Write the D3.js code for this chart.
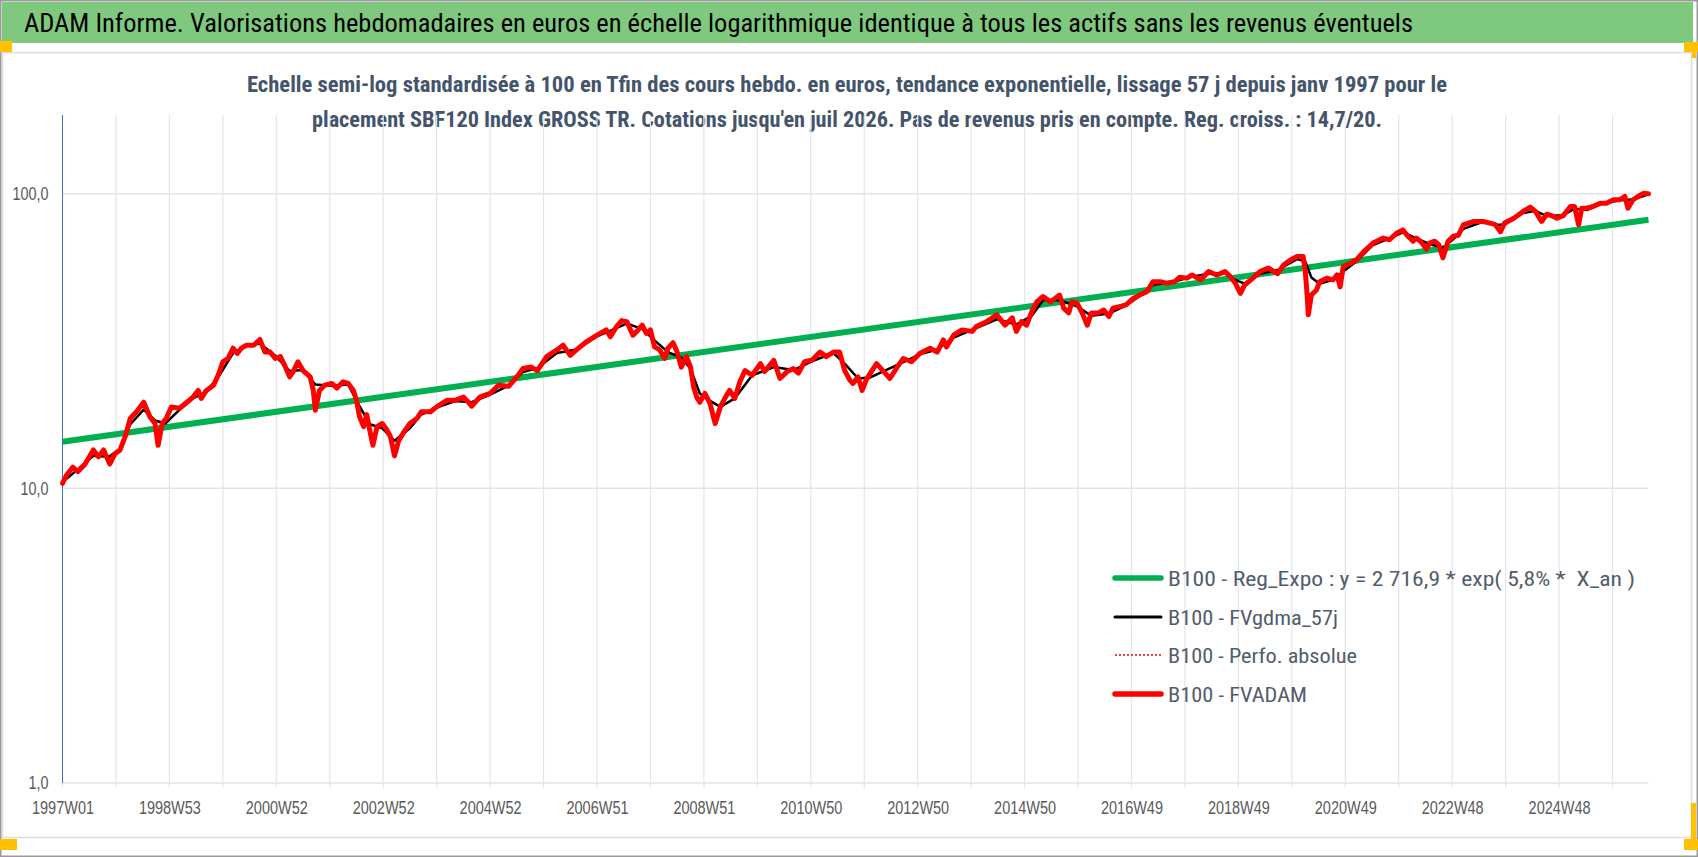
<!DOCTYPE html>
<html>
<head>
<meta charset="UTF-8">
<title>ADAM Informe - SBF120</title>
<style>
    body { margin: 0; background: white; }
    svg { display: block; font-family: "Liberation Sans Narrow", "Roboto Condensed", Roboto, "Liberation Sans", sans-serif; }
    .tick text { fill: #595959; font-size: 18px; }
    .domain { display: none; }
</style>
</head>
<body>
<svg id="chart" width="1698" height="857"></svg>
<script src="https://d3js.org/d3.v7.min.js"></script>
<script>
// ---- data (week index since 1997W01, value base 100 at the end) ----
var titleText = "ADAM Informe. Valorisations hebdomadaires en euros en échelle logarithmique identique à tous les actifs sans les revenus éventuels";
var subtitleLines = [
    "Echelle semi-log standardisée à 100 en Tfin des cours hebdo. en euros, tendance exponentielle, lissage 57 j depuis janv 1997 pour le",
    "placement SBF120 Index GROSS TR. Cotations jusqu'en juil 2026. Pas de revenus pris en compte. Reg. croiss. : 14,7/20."
];

var xLabels = ["1997W01", "1998W53", "2000W52", "2002W52", "2004W52", "2006W51", "2008W51",
    "2010W50", "2012W50", "2014W50", "2016W49", "2018W49", "2020W49", "2022W48", "2024W48"];
var xLabelStep = 104;   // weeks between labels
var xGridStep = 52;     // weeks between vertical gridlines
var lastWeek = 1543;

var yTicks = [1, 10, 100];
var yTickLabels = ["1,0", "10,0", "100,0"];

var legendNames = [
    "B100 - Reg_Expo : y = 2 716,9 * exp( 5,8% *  X_an )",
    "B100 - FVgdma_57j",
    "B100 - Perfo. absolue",
    "B100 - FVADAM"
];

// exponential regression (straight on log scale)
var regWeeks = [0, 1543];
var regValues = [14.4, 81.6];

// FVADAM / Perfo. absolue
var adamWeeks = [0, 4, 10, 15, 22, 30, 35, 40, 46, 51, 56, 61, 66, 72, 79, 85, 90, 93, 97, 101,
    106, 114, 121, 127, 132, 135, 140, 147, 152, 156, 161, 166, 170, 174, 179, 186, 192, 197, 202, 207,
    212, 216, 221, 225, 229, 234, 241, 244, 246, 250, 255, 262, 267, 273, 278, 283, 286, 289, 293, 296,
    299, 302, 306, 311, 315, 319, 323, 327, 332, 338, 345, 349, 358, 364, 374, 382, 390, 395, 398, 406,
    416, 424, 434, 442, 448, 456, 462, 471, 481, 487, 494, 500, 510, 520, 529, 533, 539, 544, 549, 555,
    560, 564, 568, 572, 576, 581, 586, 589, 594, 598, 602, 607, 611, 614, 617, 620, 625, 630, 635, 640,
    645, 649, 654, 659, 664, 671, 679, 683, 692, 698, 705, 711, 716, 722, 729, 737, 743, 750, 756, 761,
    766, 769, 774, 778, 782, 786, 792, 799, 805, 812, 818, 826, 834, 844, 851, 857, 860, 867, 875, 885,
    889, 899, 909, 917, 924, 928, 933, 938, 943, 948, 954, 961, 966, 970, 974, 979, 982, 987, 992, 997,
    1001, 1008, 1013, 1018, 1022, 1029, 1035, 1042, 1048, 1055, 1061, 1068, 1074, 1082, 1087, 1094, 1099, 1107, 1115, 1123,
    1131, 1136, 1141, 1146, 1150, 1159, 1165, 1173, 1182, 1188, 1195, 1201, 1207, 1209, 1211, 1212, 1215, 1220, 1223, 1230,
    1236, 1240, 1243, 1246, 1253, 1259, 1266, 1275, 1285, 1291, 1298, 1304, 1309, 1314, 1317, 1321, 1324, 1327, 1330, 1335,
    1339, 1343, 1348, 1353, 1358, 1363, 1373, 1382, 1389, 1394, 1399, 1403, 1412, 1421, 1428, 1433, 1439, 1444, 1449, 1454,
    1460, 1467, 1471, 1475, 1478, 1483, 1489, 1496, 1502, 1509, 1515, 1520, 1523, 1528, 1533, 1538, 1543];
var adamValues = [10.4, 11.1, 11.8, 11.4, 12.1, 13.5, 12.8, 13.5, 12.1, 13.1, 13.5, 15.0, 17.3, 18.2, 19.6, 17.5, 16.6, 14.0, 16.6, 17.3,
    18.9, 18.7, 19.6, 20.4, 21.5, 20.2, 21.5, 22.4, 24.5, 26.9, 27.6, 29.9, 28.7, 29.9, 30.6, 30.6, 32.0, 29.0, 29.0, 27.6,
    28.0, 26.2, 23.9, 25.1, 26.9, 25.1, 23.9, 21.5, 18.4, 21.5, 22.4, 22.7, 21.9, 23.0, 22.7, 21.5, 19.9, 17.5, 16.2, 17.8,
    15.7, 14.0, 16.2, 16.6, 15.9, 15.0, 12.9, 14.5, 15.5, 16.6, 17.3, 18.2, 18.2, 18.9, 19.9, 19.9, 20.4, 19.6, 19.0, 20.4,
    21.0, 22.4, 22.2, 23.9, 25.5, 25.8, 25.1, 28.0, 29.5, 30.6, 28.3, 29.5, 31.5, 33.1, 34.5, 32.7, 35.4, 37.1, 36.8, 33.1,
    34.5, 35.8, 33.6, 34.5, 30.2, 29.5, 27.6, 29.9, 31.2, 29.0, 25.8, 28.0, 25.8, 22.1, 20.4, 19.6, 21.0, 19.4, 16.6, 18.9,
    20.4, 21.5, 20.2, 23.0, 25.1, 24.2, 26.5, 24.9, 27.2, 23.6, 24.9, 25.5, 24.6, 26.9, 27.2, 29.0, 28.0, 29.0, 29.0, 25.1,
    23.3, 22.7, 23.9, 21.5, 23.4, 24.6, 26.5, 24.9, 23.6, 25.8, 27.6, 26.9, 28.7, 29.9, 29.0, 31.9, 30.2, 33.1, 34.5, 34.1,
    35.4, 36.8, 38.8, 35.8, 37.9, 34.1, 36.8, 35.8, 39.8, 43.0, 44.8, 43.0, 44.2, 45.3, 40.9, 39.4, 43.0, 42.5, 39.4, 35.8,
    39.4, 39.4, 40.3, 38.3, 40.9, 41.4, 42.0, 44.2, 45.3, 46.5, 50.3, 50.3, 49.7, 50.3, 52.1, 51.7, 53.0, 51.0, 54.4, 53.0,
    54.4, 52.4, 49.7, 45.9, 49.0, 52.0, 54.4, 56.0, 53.5, 57.3, 59.7, 61.2, 61.2, 55.1, 44.8, 38.8, 45.3, 47.1, 50.3, 51.7,
    51.0, 53.0, 48.3, 56.6, 58.1, 59.7, 63.6, 68.0, 70.7, 69.8, 73.5, 75.4, 71.7, 69.0, 70.7, 69.0, 67.1, 64.8, 68.0, 69.0,
    67.1, 60.6, 69.0, 71.7, 72.3, 78.5, 80.5, 80.5, 79.5, 78.5, 74.3, 79.5, 82.6, 87.1, 90.1, 87.1, 80.5, 85.2, 84.2, 82.6,
    84.2, 90.5, 90.5, 78.5, 89.3, 89.3, 90.5, 92.9, 92.9, 95.4, 95.4, 97.9, 89.3, 95.4, 97.9, 100.3, 100.0];

// FVgdma_57j (smoothed line, mostly hidden under FVADAM)
var gdmaWeeks = [0, 15, 30, 45, 56, 66, 79, 90, 100, 114, 127, 140, 152, 166, 179, 192, 207, 221, 234, 246,
    262, 278, 289, 299, 311, 323, 338, 349, 364, 382, 398, 416, 434, 448, 462, 481, 500, 520, 539, 549,
    564, 576, 589, 602, 611, 620, 630, 640, 654, 671, 692, 711, 729, 750, 761, 774, 786, 799, 818, 834,
    851, 867, 889, 909, 928, 943, 954, 970, 987, 1001, 1018, 1035, 1048, 1061, 1082, 1099, 1115, 1131, 1141, 1150,
    1165, 1182, 1201, 1209, 1215, 1223, 1236, 1246, 1259, 1275, 1291, 1304, 1317, 1330, 1343, 1353, 1363, 1382, 1394, 1403,
    1421, 1433, 1444, 1460, 1471, 1483, 1496, 1515, 1528, 1543];
var gdmaValues = [10.5, 11.6, 12.9, 12.8, 13.6, 16.5, 18.5, 17.0, 16.6, 18.5, 20.2, 21.3, 24.0, 28.8, 30.5, 31.0, 28.2, 25.0, 25.2, 22.5,
    22.3, 22.5, 19.0, 16.5, 16.0, 14.5, 16.0, 17.8, 18.8, 19.8, 19.6, 20.8, 22.3, 24.8, 25.6, 28.8, 29.6, 32.8, 35.0, 36.3,
    34.7, 31.8, 29.0, 27.8, 25.5, 21.0, 19.8, 18.9, 20.2, 24.2, 25.8, 25.2, 27.0, 28.8, 26.5, 23.6, 23.8, 25.0, 26.8, 28.5,
    29.6, 32.5, 35.0, 37.5, 36.0, 38.5, 43.5, 43.5, 41.5, 38.5, 39.2, 41.8, 45.0, 49.0, 50.3, 52.3, 53.5, 53.8, 51.0, 49.5,
    53.5, 55.0, 60.0, 59.0, 52.0, 49.5, 51.0, 54.5, 59.0, 67.0, 70.5, 74.0, 70.5, 67.5, 65.5, 70.0, 76.0, 80.3, 78.5, 78.5,
    86.0, 87.5, 84.0, 84.5, 89.0, 88.0, 92.0, 95.0, 95.5, 99.5];

// ---- layout ----
var W = 1698, H = 857;
var plot = { left: 62.5, right: 1648.5, top: 115, bottom: 783 };
var colors = { reg: "#00b050", gdma: "#000000", perfo: "#ff0000", adam: "#ff0000" };

var svg = d3.select("#chart");

function fitText(sel, len) {
    sel.attr("textLength", len).attr("lengthAdjust", "spacingAndGlyphs");
}

// background and frame
svg.append("rect").attr("width", W).attr("height", H).attr("fill", "white");
svg.append("rect").attr("x", 0.75).attr("y", 0.75).attr("width", W - 1.5).attr("height", H - 1.5)
    .attr("fill", "none").attr("stroke", "#9a9a9a").attr("stroke-width", 1.5);

// green title bar
svg.append("rect").attr("x", 2).attr("y", 2).attr("width", 1691).attr("height", 41).attr("fill", "#7fc97f");
svg.append("text").attr("x", 24).attr("y", 32).attr("font-size", 26).attr("fill", "#000")
    .text(titleText).call(fitText, 1389);

// chart area
svg.append("rect").attr("x", 2.5).attr("y", 52.5).attr("width", 1689).attr("height", 785)
    .attr("fill", "white").attr("stroke", "#dcdcdc").attr("stroke-width", 1.5);

// selection handles
var handles = [[0, 41, 12, 11], [1684, 42, 14, 10], [1692, 52, 4, 6], [0, 839, 17, 11], [1684, 839, 14, 11], [1691, 803, 5, 36]];
svg.selectAll("rect.handle").data(handles).enter().append("rect")
    .attr("class", "handle")
    .attr("x", function(d) { return d[0]; }).attr("y", function(d) { return d[1]; })
    .attr("width", function(d) { return d[2]; }).attr("height", function(d) { return d[3]; })
    .attr("fill", "#ffc000");

// subtitle
var subWidths = [1200, 1070];
svg.selectAll("text.sub").data(subtitleLines).enter().append("text")
    .attr("class", "sub")
    .attr("x", 847).attr("y", function(d, i) { return 92 + i * 35; })
    .attr("text-anchor", "middle").attr("font-size", 22.5).attr("font-weight", "bold").attr("fill", "#44546a")
    .text(function(d) { return d; })
    .each(function(d, i) { d3.select(this).call(fitText, subWidths[i]); });

// scales
var x = d3.scaleLinear().domain([0, lastWeek]).range([plot.left, plot.right]);
var y = d3.scaleLog().domain([1, 185]).range([plot.bottom, plot.top]);

// gridlines
var gridWeeks = d3.range(0, lastWeek, xGridStep);
svg.append("g").selectAll("line").data(gridWeeks).enter().append("line")
    .attr("x1", function(d) { return x(d); }).attr("x2", function(d) { return x(d); })
    .attr("y1", plot.top).attr("y2", plot.bottom + 5)
    .attr("stroke", "#e1e5ec").attr("stroke-width", 1.2);
svg.append("g").selectAll("line").data(yTicks).enter().append("line")
    .attr("x1", plot.left).attr("x2", plot.right)
    .attr("y1", function(d) { return y(d); }).attr("y2", function(d) { return y(d); })
    .attr("stroke", "#dfe3ea").attr("stroke-width", 1.5);

// y axis line
svg.append("line").attr("x1", plot.left).attr("x2", plot.left).attr("y1", plot.top).attr("y2", plot.bottom)
    .attr("stroke", "#4472c4").attr("stroke-width", 1);

// axes labels
var xAxis = d3.axisBottom(x)
    .tickValues(xLabels.map(function(d, i) { return i * xLabelStep; }))
    .tickFormat(function(d, i) { return xLabels[i]; })
    .tickSize(0).tickPadding(18);
svg.append("g").attr("transform", "translate(0," + plot.bottom + ")").call(xAxis)
    .selectAll("text").attr("font-family", null).attr("font-size", null).call(fitText, 62);

var yAxis = d3.axisLeft(y)
    .tickValues(yTicks)
    .tickFormat(function(d, i) { return yTickLabels[i]; })
    .tickSize(0).tickPadding(14);
svg.append("g").attr("transform", "translate(" + plot.left + ",0)").call(yAxis)
    .selectAll("text").attr("font-family", null).attr("font-size", null)
    .each(function(d, i) { d3.select(this).call(fitText, [20, 28, 36][i]); });

// series
function series(weeks, values) {
    return weeks.map(function(w, i) { return [w, values[i]]; });
}
var line = d3.line().x(function(d) { return x(d[0]); }).y(function(d) { return y(d[1]); });

var g = svg.append("g").attr("fill", "none").attr("stroke-linejoin", "round").attr("stroke-linecap", "round");
g.append("path").attr("d", line(series(regWeeks, regValues)))
    .attr("stroke", colors.reg).attr("stroke-width", 6).attr("stroke-linecap", "butt");
g.append("path").attr("d", line(series(gdmaWeeks, gdmaValues)))
    .attr("stroke", colors.gdma).attr("stroke-width", 2.5);
g.append("path").attr("d", line(series(adamWeeks, adamValues)))
    .attr("stroke", colors.perfo).attr("stroke-width", 1.5).attr("stroke-dasharray", "2,2");
g.append("path").attr("d", line(series(adamWeeks, adamValues)))
    .attr("stroke", colors.adam).attr("stroke-width", 5);

// legend
var legendY = [578, 617, 655, 694];
var legendWidths = [467, 170, 189, 139];
var legendStyles = [
    { color: colors.reg, width: 5.5, dash: null },
    { color: colors.gdma, width: 3, dash: null },
    { color: colors.perfo, width: 1.5, dash: "2,2" },
    { color: colors.adam, width: 5.5, dash: null }
];
var leg = svg.append("g").selectAll("g").data(legendNames).enter().append("g")
    .attr("transform", function(d, i) { return "translate(0," + legendY[i] + ")"; });
leg.append("line").attr("x1", 1115).attr("x2", 1161).attr("y1", 0).attr("y2", 0)
    .attr("stroke", function(d, i) { return legendStyles[i].color; })
    .attr("stroke-width", function(d, i) { return legendStyles[i].width; })
    .attr("stroke-dasharray", function(d, i) { return legendStyles[i].dash; })
    .attr("stroke-linecap", function(d, i) { return legendStyles[i].dash ? "butt" : "round"; });
leg.append("text").attr("x", 1168).attr("y", 7.5).attr("font-size", 21).attr("fill", "#525c6c")
    .style("white-space", "pre")
    .text(function(d) { return d; })
    .each(function(d, i) { d3.select(this).call(fitText, legendWidths[i]); });
</script>
</body>
</html>
